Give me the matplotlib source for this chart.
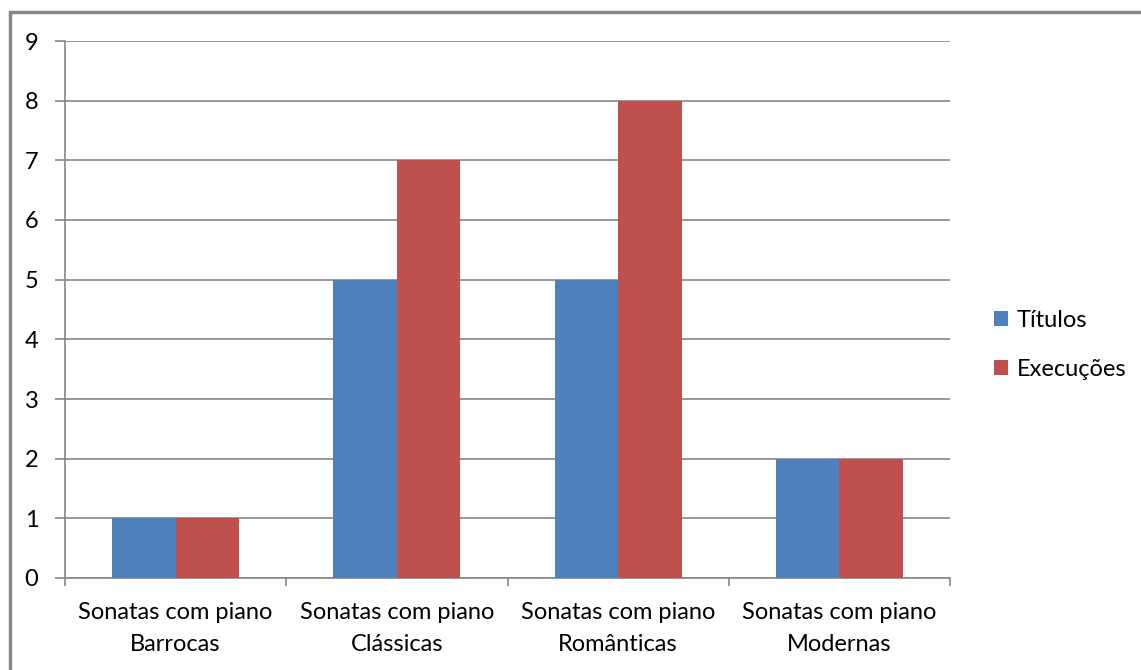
import matplotlib
matplotlib.use("Agg")
import matplotlib.pyplot as plt
from matplotlib.patches import Rectangle
import numpy as np

categories = ["Sonatas com piano\nBarrocas", "Sonatas com piano\nClássicas",
              "Sonatas com piano\nRomânticas", "Sonatas com piano\nModernas"]
series_names = ["Títulos", "Execuções"]
titulos = [1, 5, 5, 2]
execucoes = [1, 7, 8, 2]
yticks = list(range(0, 10))

plt.rcParams['font.family'] = ['Lato', 'DejaVu Sans']

W, H = 1141, 670
fs = 17
fig = plt.figure(figsize=(W/100, H/100), dpi=100)
ax = fig.add_axes([65/W, 1 - 578/H, (950-65)/W, (578-41)/H])

grid_c = "#868686"
blue = "#4F81BD"
red = "#C0504D"

x = np.arange(len(categories))
bw = 0.287
ax.bar(x - bw/2, titulos, bw, color=blue, label=series_names[0], zorder=3)
ax.bar(x + bw/2, execucoes, bw, color=red, label=series_names[1], zorder=3)

ax.set_xlim(-0.5, len(categories) - 0.5)
ax.set_ylim(0, 9)
ax.set_yticks(yticks)
ax.set_yticklabels([str(v) for v in yticks], fontsize=fs)
ax.yaxis.grid(True, color=grid_c, linewidth=1.2, zorder=0)
ax.tick_params(axis='y', length=7.2, color=grid_c, width=1.2, pad=12)
ax.set_xticks(np.arange(len(categories) + 1) - 0.5, minor=False)
ax.set_xticklabels([])
ax.set_xticks(x, minor=True)
ax.set_xticklabels(categories, minor=True, fontsize=fs, linespacing=1.65)
ax.tick_params(axis='x', which='major', length=5.8, color=grid_c, width=1.2)
ax.tick_params(axis='x', which='minor', length=0, pad=17)
for s in ['top', 'right']:
    ax.spines[s].set_visible(False)
for s in ['left', 'bottom']:
    ax.spines[s].set_color(grid_c)
    ax.spines[s].set_linewidth(1.2)

leg = fig.legend(loc='center left', bbox_to_anchor=(973/W, 1 - 345/H), frameon=False,
                 fontsize=fs, handlelength=0.6, handleheight=0.6, handletextpad=0.35,
                 labelspacing=1.2)

# outer chart border (top and left visible)
fig.patches.append(Rectangle((9.5/W, -0.1), 1.2, 1 - 12/H + 0.1, transform=fig.transFigure,
                             fill=False, edgecolor="#888888", linewidth=2.5))

fig.savefig("out.png", dpi=100)
